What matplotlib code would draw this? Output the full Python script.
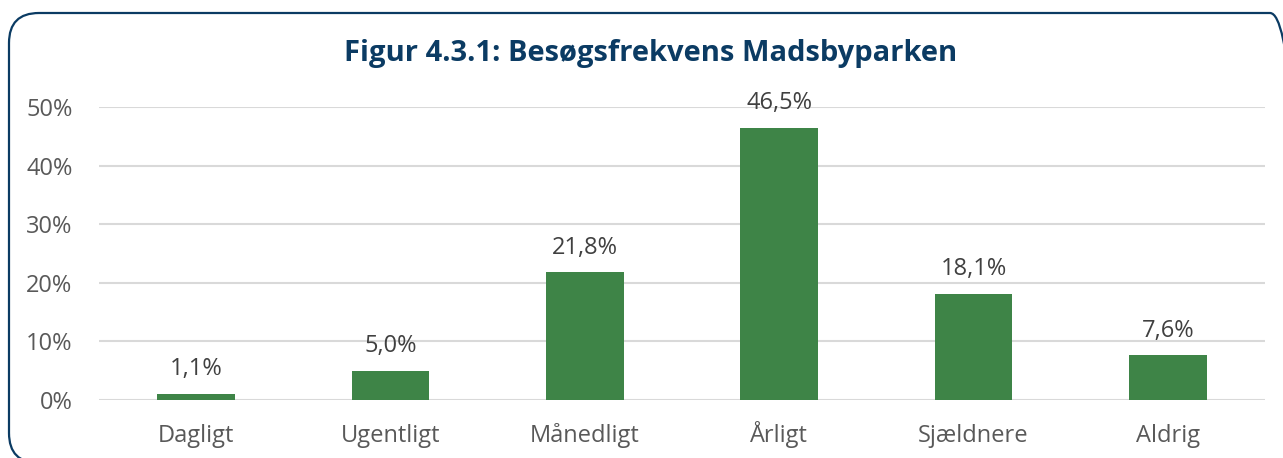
import matplotlib.pyplot as plt
from matplotlib.patches import FancyBboxPatch
from matplotlib.transforms import IdentityTransform

categories = ['Dagligt', 'Ugentligt', 'Månedligt', 'Årligt', 'Sjældnere', 'Aldrig']
values = [1.1, 5.0, 21.8, 46.5, 18.1, 7.6]
yticks = [0, 10, 20, 30, 40, 50]
title = 'Figur 4.3.1: Besøgsfrekvens Madsbyparken'

plt.rcParams['font.family'] = ['Open Sans', 'DejaVu Sans']

W, H = 1283, 458
fig = plt.figure(figsize=(W / 100, H / 100), dpi=100)
ax = fig.add_axes([99 / W, 1 - 400 / H, (1265 - 99) / W, (400 - 107) / H])

x = range(len(categories))
ax.bar(x, values, width=0.4, color='#3E8447', zorder=3)
for xi, v in zip(x, values):
    ax.annotate(f'{v:.1f}%'.replace('.', ','), (xi, v), xytext=(0, 9),
                textcoords='offset points', ha='center', va='bottom',
                fontsize=17, color='#404040', zorder=4, annotation_clip=False)

ax.set_xlim(-0.5, len(categories) - 0.5)
ax.set_ylim(0, 50)
ax.set_yticks(yticks)
ax.set_yticklabels([f'{t}%' for t in yticks])
ax.set_xticks(list(x))
ax.set_xticklabels(categories)
ax.tick_params(axis='both', length=0, labelsize=17, labelcolor='#595959')
ax.tick_params(axis='y', pad=19)
ax.tick_params(axis='x', pad=30)
# keep baselines level (Å would push its label down otherwise)
for lbl in ax.get_xticklabels():
    lbl.set_va('baseline')
ax.grid(axis='y', color='#D9D9D9', linewidth=1.5, zorder=0)
for s in ax.spines.values():
    s.set_visible(False)

fig.text(651 / W, 1 - 54 / H, title, ha='center', va='center',
         fontsize=21, fontweight='bold', color='#0B3B63')

# rounded frame, in pixels
frame = FancyBboxPatch((9, -5), 1300 - 9, H - 13 + 5,
                       boxstyle='round,pad=0,rounding_size=30',
                       transform=IdentityTransform(), fill=False,
                       edgecolor='#0B3B63', linewidth=1.6, clip_on=False)
fig.patches.append(frame)

fig.savefig('out.png', dpi=100)
